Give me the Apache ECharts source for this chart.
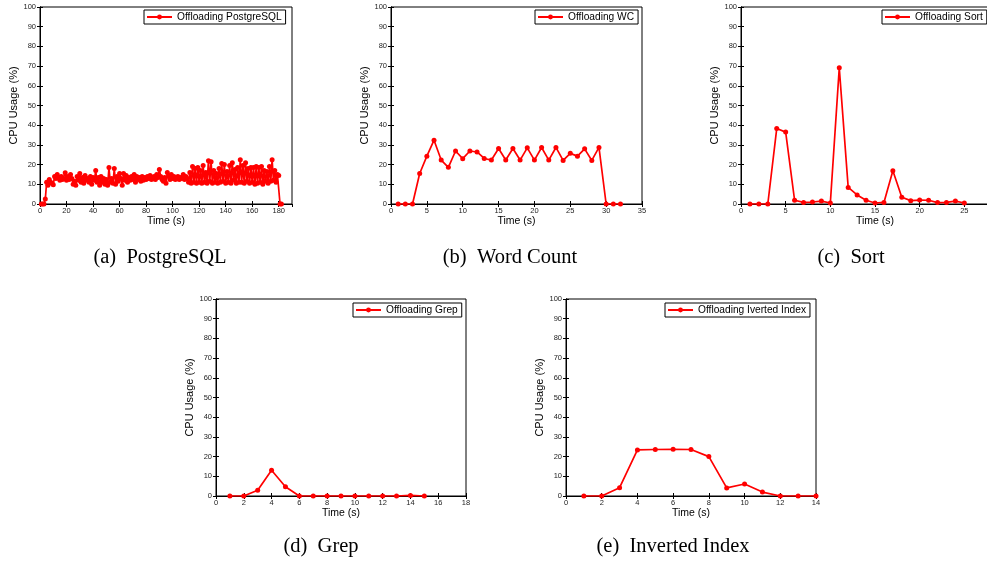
<!DOCTYPE html>
<html><head><meta charset="utf-8">
<script src="https://cdn.jsdelivr.net/npm/echarts@6/dist/echarts.min.js"></script>
<style>html,body{margin:0;padding:0;background:#fff}#c{width:987px;height:563px}</style>
</head><body><div id="c"></div>
<script>
// ---- data ----
const yTicks = [0,10,20,30,40,50,60,70,80,90,100];
const pgCpu = [
 0,0,0,2.5,11,9.5,12.5,11,10.5,9.8,
 14,13,15,13.5,12,14,12.5,13,15.8,12,
 14,12.5,15,13,10,11.5,9.5,14,12,15.5,
 11,13.5,10.5,14.5,12,13,11,14,10,13.5,
 12,17,11,13.5,9.5,14,11,13,10,12.5,
 9.5,18.5,11,13,10.5,18,10,14,11.5,15.5,
 13,9.5,15.5,12,14.5,11,13.5,12,14,12.5,
 15,11,14,12.5,13.5,11.5,14,12,13.5,12.5,
 14,13,14.5,12.5,13,14,12.5,15,13.5,17.5,
 14,12.5,11.5,13.5,10.5,16,14,12.5,15,13,
 14,12.5,13.5,14,12.5,13.5,13,15,12.5,14,
 13,11,16,10.5,19,11,18,10.5,18.5,11,
 17,10.5,19.5,11,16,10.5,22,11.5,21.5,10.5,
 17,11,15.5,10.5,18,11,20.5,11.5,20,10.5,
 16.5,11,19.5,10.5,21,12,17.5,10.5,18.5,11,
 22.5,11,19.5,10.5,21,11.5,18,10.5,18.5,11,
 18.5,10,19,10.5,18.5,11,19,10,17,11.5,
 16.5,10.5,19,11.5,22.5,12,17,11,15,14.5,
 0,0
];
const wcCpu = [0,0,0,15.5,24.3,32.4,22.3,18.6,26.9,23,26.9,26.4,23.1,22.3,28.2,22.3,28.2,22.3,28.5,22.3,28.7,22.3,28.7,22.1,25.7,24.3,28,22.1,28.7,0,0,0];
const sortCpu = [0,0,0,38.3,36.5,1.9,0.8,1,1.5,0.5,69.1,8.4,4.6,1.9,0.5,0.8,16.9,3.4,1.7,2,1.9,0.7,0.8,1.5,0.5];
const grepCpu = [0,0,2.9,13.1,4.7,0,0,0,0,0,0,0,0,0.3,0];
const invCpu = [0,0,4.2,23.4,23.6,23.7,23.6,20,4.1,6.1,2,0,0,0];
const seriesNames = ['Offloading PostgreSQL','Offloading WC','Offloading Sort','Offloading Grep','Offloading Iverted Index'];
const captions = ['(a)  PostgreSQL','(b)  Word Count','(c)  Sort','(d)  Grep','(e)  Inverted Index'];
const xMaxes = [190,35,30,18,14];
const xIntervals = [20,5,5,2,2];
const xAxisName = 'Time (s)';
const yAxisName = 'CPU Usage (%)';

// ---- layout ----
const layout = [
 {grid:{left:40,top:7,width:252,height:197}, legend:{left:144,top:10}, cap:[160,258]},
 {grid:{left:391,top:7,width:251,height:197}, legend:{left:535,top:10}, cap:[510,258]},
 {grid:{left:741,top:7,width:268,height:197}, legend:{left:882,top:10}, cap:[851,258]},
 {grid:{left:216,top:299,width:250,height:197}, legend:{left:353,top:303}, cap:[321,547]},
 {grid:{left:566,top:299,width:250,height:197}, legend:{left:665,top:303}, cap:[673,547]}
];
const allData = [pgCpu,wcCpu,sortCpu,grepCpu,invCpu];
const FONT = 'Liberation Sans';

const grids=[], xAxes=[], yAxes=[], series=[], legends=[], graphics=[];
allData.forEach((vals,i)=>{
  const L = layout[i];
  grids.push(Object.assign({show:true,borderColor:'#000',borderWidth:1,backgroundColor:'#fff',containLabel:false,outerBoundsMode:'none'}, L.grid));
  const tick = {show:true,inside:true,length:3,lineStyle:{color:'#000',width:1}};
  xAxes.push({type:'value',gridIndex:i,min:0,max:xMaxes[i],interval:xIntervals[i],position:'bottom',
    name:xAxisName,nameLocation:'middle',nameGap:11,nameTextStyle:{fontFamily:FONT,fontSize:10.5,color:'#000'},
    axisLine:{show:true,lineStyle:{color:'#000',width:1}},axisTick:tick,splitLine:{show:false},
    axisLabel:{fontFamily:FONT,fontSize:7.5,color:'#222',margin:3,showMaxLabel:(xMaxes[i]%xIntervals[i]===0)}});
  xAxes.push({type:'value',gridIndex:i,min:0,max:xMaxes[i],interval:xIntervals[i],position:'top',
    axisLine:{show:true,lineStyle:{color:'#000',width:1}},axisTick:tick,splitLine:{show:false},axisLabel:{show:false}});
  yAxes.push({type:'value',gridIndex:i,min:0,max:100,interval:10,position:'left',
    name:yAxisName,nameLocation:'middle',nameGap:19,nameTextStyle:{fontFamily:FONT,fontSize:11,color:'#000'},
    axisLine:{show:true,lineStyle:{color:'#000',width:1}},axisTick:tick,splitLine:{show:false},
    axisLabel:{fontFamily:FONT,fontSize:7.5,color:'#222',margin:4}});
  yAxes.push({type:'value',gridIndex:i,min:0,max:100,interval:10,position:'right',
    axisLine:{show:true,lineStyle:{color:'#000',width:1}},axisTick:tick,splitLine:{show:false},axisLabel:{show:false}});
  series.push({type:'line',name:seriesNames[i],xAxisIndex:2*i,yAxisIndex:2*i,
    data:vals.map((v,k)=>[k+1,v]),symbol:'circle',symbolSize:5,showAllSymbol:true,
    lineStyle:{color:'#ff0000',width:1.7},itemStyle:{color:'#ff0000'},animation:false,clip:true});
  legends.push({data:[seriesNames[i]],left:L.legend.left,top:L.legend.top,orient:'horizontal',
    backgroundColor:'#fff',borderColor:'#000',borderWidth:1,padding:[2,4,2,2],
    itemWidth:25,itemHeight:6,itemGap:5,selectedMode:false,
    textStyle:{fontFamily:FONT,fontSize:10.2,color:'#000'}});
  graphics.push({type:'text',x:L.cap[0],y:L.cap[1],style:{text:captions[i],font:'20.5px "Liberation Serif"',fill:'#000',textAlign:'center',textVerticalAlign:'middle'}});
});

const chart = echarts.init(document.getElementById('c'),null,{renderer:'canvas'});
chart.setOption({animation:false,backgroundColor:'#fff',grid:grids,xAxis:xAxes,yAxis:yAxes,series:series,legend:legends,graphic:graphics});
</script></body></html>
